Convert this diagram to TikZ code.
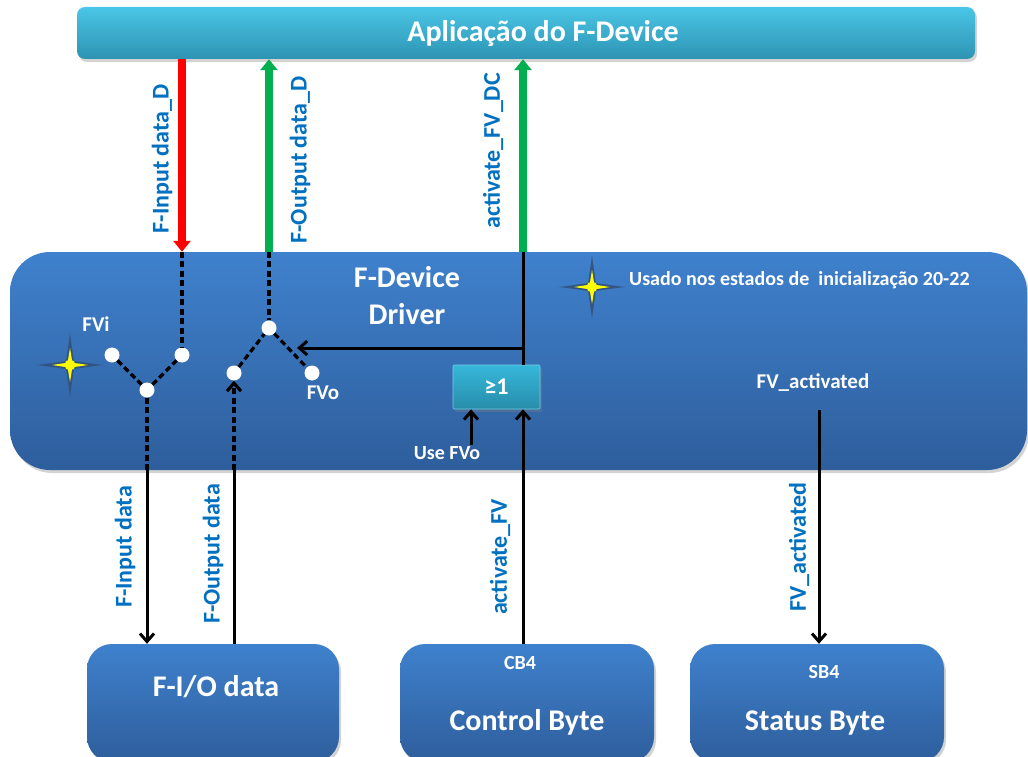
\documentclass[tikz,border=0pt]{standalone}
\usepackage{fontspec}
\setmainfont{Carlito}
\usetikzlibrary{arrows.meta,shadows}

\definecolor{lblue}{HTML}{0070C0}
\definecolor{barTop}{HTML}{4AC6E6}
\definecolor{barBot}{HTML}{2D93B3}
\definecolor{boxTop}{HTML}{3F81CD}
\definecolor{boxBot}{HTML}{2E5E9C}
\definecolor{gateTop}{HTML}{36B8DA}
\definecolor{gateBot}{HTML}{288CAA}
\definecolor{sigRed}{HTML}{FF0000}
\definecolor{sigGreen}{HTML}{00B050}
\definecolor{glow}{HTML}{33507A}
\definecolor{starYellow}{HTML}{FFFF00}

\begin{document}
\begin{tikzpicture}[x=1pt,y=-1pt,
  fs/.style={font=\fontsize{#1}{#1}\selectfont\bfseries},
  shadowed/.style={drop shadow={opacity=0.35,shadow xshift=2pt,shadow yshift=-3pt}},
  panel/.style={rectangle,rounded corners=#1,top color=boxTop,bottom color=boxBot,
    draw=none,inner sep=0pt,shadowed},
  bar/.style={rectangle,rounded corners=8pt,top color=barTop,bottom color=barBot,
    draw=none,inner sep=0pt,shadowed,text=white,fs=30},
  gatebox/.style={rectangle,rounded corners=1pt,top color=gateTop,bottom color=gateBot,
    draw=gateTop!70!white,line width=0.6pt,inner sep=0pt,shadowed,text=white,fs=24},
  wtext/.style={text=white,inner sep=1pt,fs=#1},
  sig/.style={text=lblue,rotate=90,inner sep=1pt,fs=24},
  dot/.style={circle,fill=white,inner sep=0pt,minimum size=15pt},
  swline/.style={line width=3.2pt,dash pattern=on 6pt off 3.5pt,black},
  wire/.style={line width=3pt,black},
  barb/.style={-{Straight Barb[length=8pt,width=14pt]}},
  bigred/.style={line width=7.5pt,sigRed,-{Triangle[length=11pt,width=17pt]}},
  biggreen/.style={line width=7.5pt,sigGreen,-{Triangle[length=11pt,width=17pt]}},
  sparkle/.pic={
    \fill[glow,opacity=0.55] (34,0) .. controls (8,-3) .. (3,-3) .. controls (3,-8) .. (0,-33)
      .. controls (-3,-8) .. (-3,-3) .. controls (-8,-3) .. (-34,0)
      .. controls (-8,3) .. (-3,3) .. controls (-3,8) .. (0,33)
      .. controls (3,8) .. (3,3) .. controls (8,3) .. cycle;
    \fill[glow,opacity=0.8] (30,0) -- (4,-4) -- (0,-29) -- (-4,-4) -- (-30,0)
      -- (-4,4) -- (0,29) -- (4,4) -- cycle;
    \fill[starYellow] (18,0) .. controls (5,-2) .. (2,-2) .. controls (2,-5) .. (0,-17)
      .. controls (-2,-5) .. (-2,-2) .. controls (-5,-2) .. (-18,0)
      .. controls (-5,2) .. (-2,2) .. controls (-2,5) .. (0,17)
      .. controls (2,5) .. (2,2) .. controls (5,2) .. cycle;
    \fill[starYellow] (0,0) circle (5.5);
  }
]
\useasboundingbox (0,0) rectangle (1028,757);

% application bar and driver panel
\node[bar,minimum width=898pt,minimum height=52pt] (app) at (526,33)
  {\hspace*{34pt}Aplicação do F-Device};
\node[panel=40pt,minimum width=1017pt,minimum height=218pt] (drv) at (518.5,361) {};
\node[wtext=30,align=center,font=\fontsize{30}{37}\selectfont\bfseries] (drvname)
  at (407,296) {F-Device\\Driver};

% lower blocks
\node[panel=25pt,minimum width=252pt,minimum height=118pt] (fio) at (213,703) {};
\node[panel=25pt,minimum width=254pt,minimum height=118pt] (ctrl) at (527,703) {};
\node[panel=25pt,minimum width=254pt,minimum height=118pt] (stat) at (817,703) {};
\node[wtext=30] (fiotxt) at (216,687) {F-I/O data};
\node[wtext=20] (cb) at (520,663) {CB4};
\node[wtext=30] (ctrltxt) at (527,722) {Control Byte};
\node[wtext=20] (sb) at (824,672) {SB4};
\node[wtext=30] (stattxt) at (815,723) {Status Byte};

% OR gate
\node[gatebox,minimum width=87pt,minimum height=44pt] (gate) at (496.5,387) {≥1};

% column references
\coordinate (cFV) at (523,0);
\coordinate (cUse) at (471,0);
\coordinate (cSB) at (819,0);
\coordinate (fvoTip) at (297,348);
\coordinate (fvaEnd) at (819,410);

% switches
\node[dot] (i1) at (112,355) {};
\node[dot] (i2) at (182,355) {};
\node[dot] (i3) at (147,390) {};
\node[dot] (o1) at (269,328) {};
\node[dot] (o2) at (234,373) {};
\node[dot] (o3) at (312,373) {};
\draw[swline] (i1) -- (i3) -- (i2);
\draw[swline] (o2) -- (o1) -- (o3);

% texts inside the driver
\node[wtext=21] (fvi) at (96,324) {FVi};
\node[wtext=21] (fvo) at (323,393) {FVo};
\node[wtext=20] (usefvo) at (447,453) {Use FVo};
\node[wtext=21] (fva) at (813,383) {FV\_activated};
\node[wtext=20,anchor=west] (note) at (628,280) {Usado nos estados de~ inicialização 20-22};

% stars
\pic at (70,365) {sparkle};
\pic at (592,287) {sparkle};

% signals to and from the application
\draw[bigred] (app.south -| i2) -- (drv.north -| i2);
\draw[biggreen] (drv.north -| o1) -- (app.south -| o1);
\draw[biggreen] (drv.north -| cFV) -- (app.south -| cFV);
\node[sig] (l1) at (162,159) {F-Input data\_D};
\node[sig] (l2) at (300,160) {F-Output data\_D};
\node[sig] (l3) at (493,151) {activate\_FV\_DC};

% wiring inside the driver
\draw[swline] (drv.north -| i2) -- (i2);
\draw[swline] (drv.north -| o1) -- (o1);
\draw[wire] (drv.north -| cFV) -- (gate.north -| cFV);
\draw[wire,barb] (fvoTip -| cFV) -- (fvoTip);
\draw[wire,barb] (usefvo.north -| cUse) -- (gate.south -| cUse);
\draw[swline] (i3) -- (drv.south -| i3);
\draw[swline,barb] (drv.south -| o2) -- (o2);

% signals to and from the lower blocks
\draw[wire,barb] (drv.south -| i3) -- (fio.north -| i3);
\draw[wire] (fio.north -| o2) -- (drv.south -| o2);
\draw[wire,barb] (ctrl.north -| cFV) -- (gate.south -| cFV);
\draw[wire,barb] (fvaEnd) -- (stat.north -| cSB);
\node[sig] (l4) at (125,547) {F-Input data};
\node[sig] (l5) at (213,554) {F-Output data};
\node[sig] (l6) at (500,557) {activate\_FV};
\node[sig] (l7) at (799,547) {FV\_activated};
\end{tikzpicture}
\end{document}
